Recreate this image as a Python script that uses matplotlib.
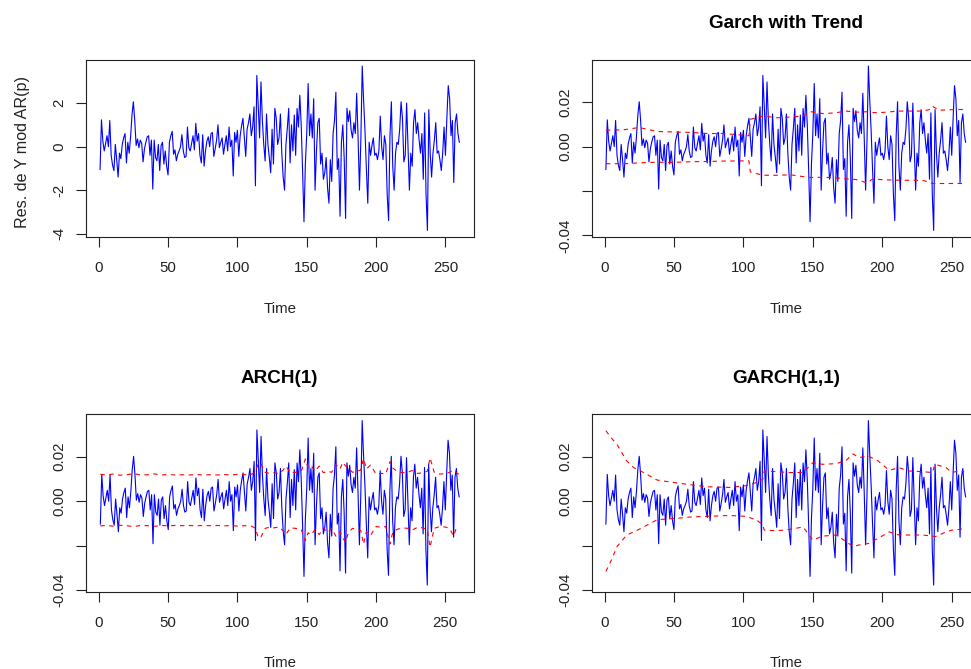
import matplotlib
matplotlib.use("Agg")
import matplotlib.pyplot as plt
import numpy as np

plt.rcParams['font.family'] = ['Liberation Sans', 'DejaVu Sans']

# residuals of the AR(p) model (t = 1..260)
res_ar = [
    -1.05, 1.23, 0.25, -0.2, 0.15, 0.5, 0.0, 1.2, -0.4, -0.85,
    -1.1, 0.1, -0.6, -1.4, -0.3, -0.55, 0.1, 0.4, 0.6, -0.75,
    0.2, -0.3, 0.45, 1.45, 2.06, 1.2, 0.05, 0.35, -0.05, 0.3,
    0.15, -0.7, -0.1, 0.2, 0.45, 0.5, -0.4, 0.3, -1.95, 0.3,
    -0.5, -0.65, 0.1, -1.1, 0.05, 0.2, -0.8, -0.2, -0.9, -1.3,
    0.2, 0.5, 0.7, -0.35, -0.15, -0.65, -0.35, -0.2, 0.0, 0.55,
    -0.2, -0.5, -0.45, 0.9, -0.05, -0.2, 0.15, 0.5, -0.15, 1.07,
    0.25, 0.6, -0.4, -0.75, 0.55, -0.9, -0.2, 0.25, 0.45, 0.0,
    0.6, 0.65, -0.45, -0.1, 0.3, 1.0, -0.05, 0.2, 0.4, -0.35,
    0.1, 0.5, -0.2, 0.9, 0.0, 0.3, -1.35, 0.65, 0.2, 0.75,
    -0.45, 0.5, 0.95, 1.3, 0.4, -0.45, 0.8, 1.1, 1.5, 0.5,
    0.9, 1.83, -1.8, 3.27, 1.9, 0.4, 2.97, 1.2, 0.1, -0.66,
    1.5, 0.1, -0.5, -1.2, 0.8, -0.8, 1.76, 1.3, 0.1, 0.4,
    1.5, -0.3, -1.4, -2.0, 0.1, 0.85, 1.76, -0.75, 1.0, -0.2,
    1.45, -0.4, 1.75, 0.9, 2.36, 1.0, -1.1, -3.45, -0.8, 0.6,
    2.9, 0.5, 1.5, 0.4, 2.2, -2.0, -0.2, 1.1, 1.3, -0.8,
    -0.3, -1.5, -1.2, -0.5, -1.9, -2.6, -0.6, -1.6, 0.6, 1.2,
    2.5, -1.05, -0.55, -3.2, 0.2, 1.0, -0.55, -3.3, 1.76, 1.15,
    1.65, 0.75, 0.4, 1.1, 0.6, 2.45, 0.4, -2.0, 0.3, 3.7,
    2.1, 0.7, -1.05, -2.6, 0.2, -0.4, 0.05, 0.4, -0.4, -0.3,
    -0.6, -0.2, 1.4, 0.0, -0.6, 0.5, 0.1, -2.2, -3.4, 0.5,
    2.06, -0.9, -2.0, -0.3, 0.2, 0.1, 0.8, 2.06, 1.3, -0.7,
    -0.4, 2.0, 0.05, -2.0, -0.3, -0.9, 1.1, 1.7, 0.6, 1.1,
    0.3, -0.3, 0.6, -1.5, 1.55, -2.2, -3.85, 1.7, -0.3, -1.4,
    -0.3, 0.3, 1.1, -0.3, -0.2, -0.6, -1.1, -0.3, 0.9, -0.4,
    1.3, 2.8, 2.2, 0.5, 1.2, -1.65, 1.1, 1.5, 0.6, 0.2,
]
# the garch panels show the same residuals in return units
escala_ret = 0.0098

# Garch with trend: bands
trend_t = [1, 14, 25, 38, 50, 62, 74, 86, 104, 105,
           114, 124, 134, 143, 149, 158, 167, 174, 181, 189,
           193, 198, 205, 210, 229, 234, 236, 241, 253, 260]
trend_up = [0.0074, 0.0076, 0.0086, 0.0068, 0.0066, 0.0064, 0.0059, 0.0059, 0.0049, 0.0123,
            0.0138, 0.0130, 0.0133, 0.0138, 0.0157, 0.0148, 0.0153, 0.0160, 0.0155, 0.0157,
            0.0153, 0.0153, 0.0156, 0.0160, 0.0160, 0.0167, 0.0182, 0.0164, 0.0167, 0.0167]
trend_lo = [-0.0077, -0.0077, -0.0073, -0.0070, -0.0071, -0.0068, -0.0067, -0.0065, -0.0064, -0.0114,
            -0.0129, -0.0129, -0.0127, -0.0135, -0.0139, -0.0138, -0.0141, -0.0145, -0.0148, -0.0163,
            -0.0146, -0.0148, -0.0150, -0.0151, -0.0152, -0.0160, -0.0166, -0.0166, -0.0166, -0.0166]

# ARCH(1): bands
arch_t = [1, 5, 10, 15, 20, 25, 30, 35, 40, 45,
          50, 55, 60, 65, 70, 75, 80, 85, 90, 95,
          100, 105, 110, 113, 115, 117, 120, 123, 126, 130,
          133, 135, 138, 142, 146, 149, 151, 153, 156, 159,
          162, 165, 168, 171, 174, 176, 178, 180, 183, 186,
          189, 191, 193, 196, 200, 204, 207, 210, 212, 215,
          219, 223, 226, 230, 234, 237, 239, 242, 246, 250,
          253, 256, 258, 260]
arch_up = [0.0121, 0.0118, 0.0122, 0.0117, 0.0119, 0.0124, 0.0118, 0.0119, 0.0123, 0.0118,
           0.0120, 0.0118, 0.0119, 0.0118, 0.0120, 0.0118, 0.0119, 0.0118, 0.0120, 0.0118,
           0.0121, 0.0119, 0.0121, 0.0130, 0.0172, 0.0168, 0.0130, 0.0125, 0.0128, 0.0124,
           0.0140, 0.0158, 0.0128, 0.0130, 0.0135, 0.0190, 0.0150, 0.0160, 0.0135, 0.0158,
           0.0128, 0.0135, 0.0130, 0.0165, 0.0145, 0.0175, 0.0158, 0.0150, 0.0130, 0.0135,
           0.0140, 0.0192, 0.0145, 0.0162, 0.0122, 0.0125, 0.0122, 0.0178, 0.0150, 0.0135,
           0.0128, 0.0130, 0.0138, 0.0125, 0.0128, 0.0135, 0.0195, 0.0130, 0.0122, 0.0124,
           0.0130, 0.0140, 0.0128, 0.0120]
arch_lo = [-0.0111, -0.0109, -0.0112, -0.0108, -0.0110, -0.0114, -0.0109, -0.0110, -0.0113, -0.0109,
           -0.0111, -0.0109, -0.0110, -0.0109, -0.0111, -0.0109, -0.0110, -0.0109, -0.0111, -0.0109,
           -0.0112, -0.0110, -0.0112, -0.0122, -0.0165, -0.0160, -0.0122, -0.0117, -0.0120, -0.0116,
           -0.0133, -0.0150, -0.0120, -0.0122, -0.0127, -0.0178, -0.0142, -0.0152, -0.0127, -0.0150,
           -0.0120, -0.0141, -0.0122, -0.0157, -0.0137, -0.0165, -0.0185, -0.0142, -0.0122, -0.0127,
           -0.0132, -0.0193, -0.0137, -0.0154, -0.0114, -0.0117, -0.0114, -0.0193, -0.0142, -0.0127,
           -0.0120, -0.0122, -0.0130, -0.0117, -0.0120, -0.0127, -0.0207, -0.0122, -0.0114, -0.0116,
           -0.0122, -0.0156, -0.0120, -0.0112]

# GARCH(1,1): bands
garch_t = [1, 5, 9, 16, 21, 26, 38, 50, 62, 74,
           90, 102, 110, 114, 115, 124, 133, 143, 150, 157,
           167, 174, 179, 183, 190, 197, 205, 212, 219, 229,
           236, 238, 246, 250, 255, 259]
garch_up = [0.0317, 0.0284, 0.0255, 0.0181, 0.0151, 0.0136, 0.0095, 0.0084, 0.0074, 0.0065,
            0.0062, 0.0070, 0.0085, 0.0099, 0.0136, 0.0133, 0.0129, 0.0129, 0.0173, 0.0166,
            0.0169, 0.0184, 0.0213, 0.0196, 0.0203, 0.0181, 0.0139, 0.0151, 0.0136, 0.0133,
            0.0129, 0.0166, 0.0151, 0.0129, 0.0136, 0.0133]
garch_lo = [-0.0316, -0.0264, -0.0204, -0.0152, -0.0138, -0.0123, -0.0083, -0.0078, -0.0071, -0.0068,
            -0.0064, -0.0068, -0.0086, -0.0108, -0.0130, -0.0133, -0.0127, -0.0116, -0.0175, -0.0157,
            -0.0152, -0.0182, -0.0204, -0.0197, -0.0190, -0.0167, -0.0138, -0.0152, -0.0152, -0.0152,
            -0.0157, -0.0160, -0.0138, -0.0130, -0.0127, -0.0123]

W, H = 971, 669
fig = plt.figure(figsize=(W / 100, H / 100), dpi=100)


def rect(left, top, right, bottom):
    # pixel box -> figure fraction
    return [left / W, (H - bottom) / H, (right - left) / W, (bottom - top) / H]


def r_limits(v):
    # base R style 4% padding
    lo, hi = min(v), max(v)
    d = (hi - lo) * 0.04
    return lo - d, hi + d


def panel(box, y, yticks, ylabels, title=None, ylab=None, bands=None):
    ax = fig.add_axes(box)
    t = np.arange(1, len(y) + 1)
    ax.plot(t, y, color='#0000FF', lw=0.8)
    if bands is not None:
        bt, up, lo = bands
        ax.plot(bt, up, color='#FF0000', lw=0.8, dashes=(4, 4))
        ax.plot(bt, lo, color='#FF0000', lw=0.8, dashes=(4, 4))
    ax.set_xlim(*r_limits(t))
    ax.set_ylim(*r_limits(y))
    ax.set_xticks([0, 50, 100, 150, 200, 250])
    ax.set_yticks(yticks)
    ax.set_yticklabels(ylabels)
    for s in ax.spines.values():
        s.set_linewidth(0.8)
        s.set_color('#222222')
    ax.tick_params(direction='out', length=7.5, width=0.8, color='#222222',
                   labelsize=10.8, labelcolor='#222222')
    ax.tick_params(axis='x', pad=10)
    ax.tick_params(axis='y', pad=6.5, labelrotation=90)
    plt.setp(ax.get_yticklabels(), va='center')
    ax.set_xlabel('Time', fontsize=10.8, labelpad=19, color='#222222')
    if ylab:
        ax.set_ylabel(ylab, fontsize=11.6, color='#222222', va='center')
        ax.yaxis.set_label_coords(-0.163, 0.48)
    if title:
        ax.set_title(title, fontsize=13.6, fontweight='bold', pad=22.5)
    return ax


res_ret = [v * escala_ret for v in res_ar]
ticks_ret = [-0.04, -0.02, 0.0, 0.02]
labels_ret = ['-0.04', '', '0.00', '0.02']

panel(rect(85.7, 59.5, 473.7, 237), res_ar, [-4, -2, 0, 2], ['-4', '-2', '0', '2'],
      ylab='Res. de Y mod AR(p)')
panel(rect(591.5, 59.5, 980, 237), res_ret, ticks_ret, labels_ret,
      title='Garch with Trend', bands=(trend_t, trend_up, trend_lo))
panel(rect(86, 414, 473.5, 591.7), res_ret, ticks_ret, labels_ret,
      title='ARCH(1)', bands=(arch_t, arch_up, arch_lo))
panel(rect(591.5, 414, 980, 591.7), res_ret, ticks_ret, labels_ret,
      title='GARCH(1,1)', bands=(garch_t, garch_up, garch_lo))

fig.savefig('out.png', dpi=100)
